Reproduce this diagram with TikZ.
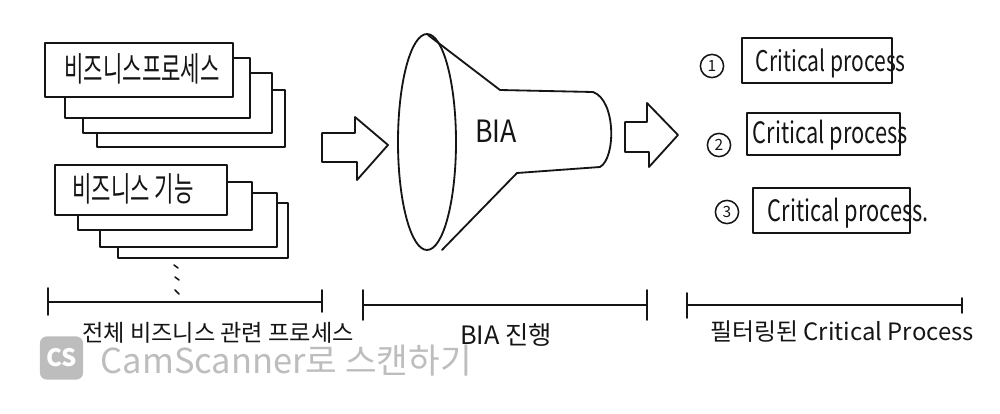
\documentclass[tikz,border=0pt]{standalone}
\usepackage{fontspec}
\setmainfont{Noto Sans CJK KR}
\definecolor{ink}{HTML}{151515}
\definecolor{wm}{HTML}{BDBDBD}
\newcommand\talltext[2][1.45]{\scalebox{1}[#1]{#2}}
\begin{document}
\begin{tikzpicture}[x=0.025cm,y=-0.025cm,
  line width=1.3pt, line join=round, line cap=round, draw=ink, text=ink,
  card/.style={draw=ink, fill=white},
  fsz/.style={font=\fontsize{#1}{#1}\selectfont},
  numcirc/.style={draw=ink, circle, line width=1.1pt, inner sep=0pt, minimum size=0.58cm, font=\fontsize{11}{11}\selectfont},
  tick/.style={draw=ink}]
\useasboundingbox (0,0) rectangle (1000,414);

% ---------- stack 1: business processes ----------
\draw[card] (97,90) rectangle (285,147);
\draw[card] (83,73) rectangle (272,133);
\draw[card] (65,58) rectangle (250,118);
\node[card, minimum width=4.7cm, minimum height=1.35cm, inner sep=0pt] (bp) at (139,70) {};
\node[fsz=15] (bpt) at (142,69) {\talltext[1.6]{비즈니스프로세스}};

% ---------- stack 2: business functions ----------
\draw[card] (118,203) rectangle (288,258);
\draw[card] (100,193) rectangle (277,247);
\draw[card] (78,182) rectangle (252,230);
\node[card, minimum width=4.3cm, minimum height=1.25cm, inner sep=0pt] (bf) at (141,190) {};
\node[fsz=15] (bft) at (133,189) {\talltext[1.6]{비즈니스 기능}};

% vertical ellipsis
\draw[line width=1.1pt] (174,265) -- (178,268);
\draw[line width=1.1pt] (175,277) -- (179,280);
\draw[line width=1.1pt] (175,290) -- (179,294);

% ---------- left block arrow ----------
\draw (322,133) -- (355,133) -- (355,117) -- (388,145) -- (357,180) -- (357,162) -- (322,162) -- cycle;

% ---------- funnel ----------
\draw (428,35) -- (500,90) -- (593,92)
      .. controls (616,100) and (616,158) .. (600,167)
      -- (517,173) -- (442,250);
\draw (427,142) ellipse [x radius=29, y radius=108];
\node[fsz=19] (bia) at (496,131) {\talltext[1.15]{BIA}};

% ---------- right block arrow ----------
\draw (625,122) -- (647,122) -- (647,103) -- (678,135) -- (649,167) -- (649,152) -- (625,152) -- cycle;

% ---------- critical processes ----------
\node[numcirc] (n1) at (712,66) {1};
\node[draw=ink, minimum width=3.75cm, minimum height=1.12cm, inner sep=0pt] (c1) at (817,60.5) {};
\node[fsz=15, anchor=west, inner sep=0pt] (c1t) at (755,63) {\talltext[1.35]{Critical process}};

\node[numcirc] (n2) at (719,145) {2};
\node[draw=ink, minimum width=3.82cm, minimum height=1.05cm, inner sep=0pt] (c2) at (823.5,134) {};
\node[fsz=15.5, anchor=west, inner sep=0pt] (c2t) at (752,135) {\talltext[1.35]{Critical process}};

\node[numcirc] (n3) at (727,212) {3};
\node[draw=ink, minimum width=3.92cm, minimum height=1.12cm, inner sep=0pt] (c3) at (831.5,210.5) {};
\node[fsz=15.5, anchor=west, inner sep=0pt] (c3t) at (767,213) {\talltext[1.35]{Critical process.}};

% ---------- timeline brackets ----------
\draw (48,288) -- (48,315);
\draw (48,302) -- (322,302);
\draw (322,290) -- (322,312);

\draw (363,290) -- (363,320);
\draw (363,305) -- (647,305);
\draw (647,290) -- (647,320);

\draw (687,293) -- (687,318);
\draw (687,305) -- (962,305);
\draw (962,298) -- (962,313);

% ---------- watermark ----------
\node[fill=wm, rounded corners=5pt, minimum width=1.08cm, minimum height=1.08cm, inner sep=0pt,
      text=white, font=\bfseries\fontsize{17}{17}\selectfont] (cs) at (61.5,358) {CS};
\node[text=wm, fsz=24.5, anchor=west, inner sep=0pt] (wmt) at (100,361) {CamScanner로 스캔하기};

% ---------- labels ----------
\node[fsz=16.5, inner sep=1pt] (l1) at (218,333) {전체 비즈니스 관련 프로세스};
\node[fsz=18] (l2) at (506,335) {BIA 진행};
\node[fsz=17] (l3) at (842,332) {필터링된 Critical Process};
\end{tikzpicture}
\end{document}
